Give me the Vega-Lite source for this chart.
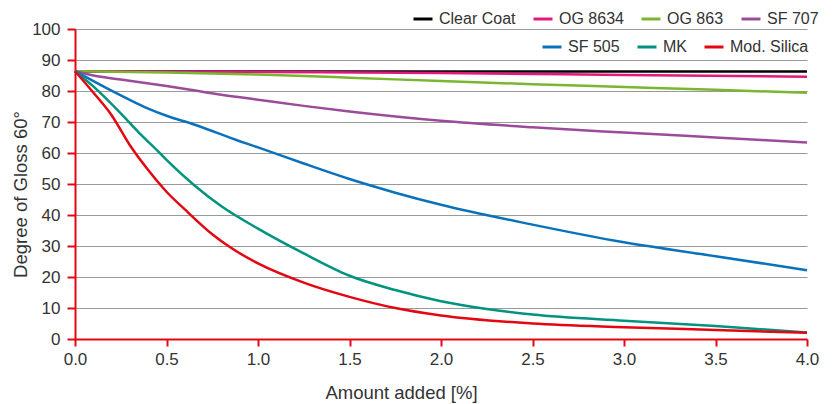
{
  "$schema": "https://vega.github.io/schema/vega-lite/v6.json",
  "autosize": {"type": "none"},
  "width": 732,
  "height": 310,
  "padding": {"left": 75, "top": 29, "right": 29, "bottom": 65},
  "background": "white",
  "config": {
    "view": {"stroke": null},
    "font": "Liberation Sans",
    "axis": {"labelFont": "Liberation Sans", "titleFont": "Liberation Sans", "labelColor": "#333333", "titleColor": "#333333", "titleFontWeight": "normal"},
    "legend": {"labelFont": "Liberation Sans", "labelColor": "#333333"}
  },
  "data": {"values": [
    {"series": "Clear Coat", "x": 0, "y": 86.3},
    {"series": "Clear Coat", "x": 1, "y": 86.3},
    {"series": "Clear Coat", "x": 2, "y": 86.3},
    {"series": "Clear Coat", "x": 3, "y": 86.3},
    {"series": "Clear Coat", "x": 4, "y": 86.3},
    {"series": "OG 8634", "x": 0, "y": 86.4},
    {"series": "OG 8634", "x": 1, "y": 86.1},
    {"series": "OG 8634", "x": 2, "y": 85.8},
    {"series": "OG 8634", "x": 3, "y": 85.2},
    {"series": "OG 8634", "x": 4, "y": 84.6},
    {"series": "OG 863", "x": 0, "y": 86.4},
    {"series": "OG 863", "x": 0.5, "y": 86.0},
    {"series": "OG 863", "x": 1, "y": 85.3},
    {"series": "OG 863", "x": 1.5, "y": 84.3},
    {"series": "OG 863", "x": 2, "y": 83.2},
    {"series": "OG 863", "x": 2.5, "y": 82.2},
    {"series": "OG 863", "x": 3, "y": 81.3},
    {"series": "OG 863", "x": 3.5, "y": 80.4},
    {"series": "OG 863", "x": 4, "y": 79.4},
    {"series": "SF 707", "x": 0, "y": 86.4},
    {"series": "SF 707", "x": 0.15, "y": 84.5},
    {"series": "SF 707", "x": 0.25, "y": 83.7},
    {"series": "SF 707", "x": 0.5, "y": 81.6},
    {"series": "SF 707", "x": 0.63, "y": 80.4},
    {"series": "SF 707", "x": 0.8, "y": 78.8},
    {"series": "SF 707", "x": 1, "y": 77.2},
    {"series": "SF 707", "x": 1.25, "y": 75.2},
    {"series": "SF 707", "x": 1.5, "y": 73.4},
    {"series": "SF 707", "x": 2, "y": 70.4},
    {"series": "SF 707", "x": 2.5, "y": 68.3},
    {"series": "SF 707", "x": 3, "y": 66.6},
    {"series": "SF 707", "x": 3.5, "y": 65.0},
    {"series": "SF 707", "x": 4, "y": 63.4},
    {"series": "SF 505", "x": 0, "y": 86.4},
    {"series": "SF 505", "x": 0.17, "y": 81.0},
    {"series": "SF 505", "x": 0.25, "y": 78.6},
    {"series": "SF 505", "x": 0.4, "y": 74.3},
    {"series": "SF 505", "x": 0.5, "y": 72.0},
    {"series": "SF 505", "x": 0.65, "y": 69.2},
    {"series": "SF 505", "x": 0.9, "y": 63.8},
    {"series": "SF 505", "x": 1, "y": 61.8},
    {"series": "SF 505", "x": 1.25, "y": 56.6},
    {"series": "SF 505", "x": 1.5, "y": 51.6},
    {"series": "SF 505", "x": 1.75, "y": 47.2},
    {"series": "SF 505", "x": 2, "y": 43.3},
    {"series": "SF 505", "x": 2.5, "y": 36.9},
    {"series": "SF 505", "x": 3, "y": 31.2},
    {"series": "SF 505", "x": 3.5, "y": 26.7},
    {"series": "SF 505", "x": 4, "y": 22.2},
    {"series": "MK", "x": 0, "y": 86.4},
    {"series": "MK", "x": 0.1, "y": 81.5},
    {"series": "MK", "x": 0.25, "y": 72.8},
    {"series": "MK", "x": 0.35, "y": 66.5},
    {"series": "MK", "x": 0.45, "y": 60.8},
    {"series": "MK", "x": 0.5, "y": 57.8},
    {"series": "MK", "x": 0.65, "y": 49.7},
    {"series": "MK", "x": 0.8, "y": 42.8},
    {"series": "MK", "x": 1, "y": 35.6},
    {"series": "MK", "x": 1.25, "y": 27.6},
    {"series": "MK", "x": 1.5, "y": 20.4},
    {"series": "MK", "x": 1.75, "y": 15.8},
    {"series": "MK", "x": 2, "y": 12.2},
    {"series": "MK", "x": 2.25, "y": 9.7},
    {"series": "MK", "x": 2.5, "y": 7.9},
    {"series": "MK", "x": 3, "y": 5.9},
    {"series": "MK", "x": 3.5, "y": 4.2},
    {"series": "MK", "x": 4, "y": 2.1},
    {"series": "Mod. Silica", "x": 0, "y": 86.4},
    {"series": "Mod. Silica", "x": 0.1, "y": 79.5},
    {"series": "Mod. Silica", "x": 0.2, "y": 72.2},
    {"series": "Mod. Silica", "x": 0.3, "y": 62.5},
    {"series": "Mod. Silica", "x": 0.4, "y": 54.5},
    {"series": "Mod. Silica", "x": 0.5, "y": 47.5},
    {"series": "Mod. Silica", "x": 0.6, "y": 41.8},
    {"series": "Mod. Silica", "x": 0.75, "y": 33.8},
    {"series": "Mod. Silica", "x": 0.85, "y": 29.5},
    {"series": "Mod. Silica", "x": 1, "y": 24.4},
    {"series": "Mod. Silica", "x": 1.25, "y": 18.2},
    {"series": "Mod. Silica", "x": 1.5, "y": 13.6},
    {"series": "Mod. Silica", "x": 1.75, "y": 10.0},
    {"series": "Mod. Silica", "x": 2, "y": 7.6},
    {"series": "Mod. Silica", "x": 2.5, "y": 5.0},
    {"series": "Mod. Silica", "x": 3, "y": 3.8},
    {"series": "Mod. Silica", "x": 3.5, "y": 2.9},
    {"series": "Mod. Silica", "x": 4, "y": 2.0}
  ]},
  "encoding": {
    "x": {
      "field": "x", "type": "quantitative",
      "scale": {"domain": [0, 4], "nice": false},
      "axis": {
        "title": "Amount added [%]", "values": [0, 0.5, 1, 1.5, 2, 2.5, 3, 3.5, 4], "format": ".1f",
        "grid": false, "domainColor": "#e30613", "domainWidth": 2, "tickColor": "#e30613", "tickWidth": 2, "tickSize": 7,
        "labelFontSize": 17, "labelPadding": 5, "labelFlush": false, "labelOverlap": false, "titleFontSize": 18.5,
        "titleX": 326, "titleY": 53, "titleBaseline": "middle", "titleAnchor": null
      }
    },
    "y": {
      "field": "y", "type": "quantitative",
      "scale": {"domain": [0, 100], "nice": false},
      "axis": {
        "title": "Degree of Gloss 60°", "values": [0, 10, 20, 30, 40, 50, 60, 70, 80, 90, 100],
        "grid": true, "gridColor": "#999999", "gridWidth": 1,
        "domainColor": "#e30613", "domainWidth": 2, "tickColor": "#e30613", "tickWidth": 2, "tickSize": 8,
        "labelFontSize": 17, "labelPadding": 7, "labelFlush": false, "titleFontSize": 18.5,
        "titleX": -55, "titleY": 165, "titleAngle": -90, "titleBaseline": "middle"
      }
    }
  },
  "layer": [
    {
      "transform": [{"filter": {"field": "series", "oneOf": ["Clear Coat", "OG 8634", "OG 863", "SF 707"]}}],
      "mark": {"type": "line", "interpolate": "monotone", "strokeWidth": 2.5},
      "encoding": {
        "color": {
          "field": "series", "type": "nominal",
          "scale": {"domain": ["Clear Coat", "OG 8634", "OG 863", "SF 707"], "range": ["#000000", "#e5177e", "#7ab62f", "#9c4b9b"]},
          "legend": {"orient": "none", "legendX": 337, "legendY": -21, "direction": "horizontal", "title": null,
            "symbolType": "stroke", "symbolStrokeWidth": 3, "symbolSize": 361, "labelFontSize": 16,
            "columnPadding": 11, "labelOffset": 5}
        }
      }
    },
    {
      "transform": [{"filter": {"field": "series", "oneOf": ["SF 505", "MK", "Mod. Silica"]}}],
      "mark": {"type": "line", "interpolate": "monotone", "strokeWidth": 2.5},
      "encoding": {
        "stroke": {
          "field": "series", "type": "nominal",
          "scale": {"domain": ["SF 505", "MK", "Mod. Silica"], "range": ["#0a72bb", "#00937e", "#e30613"]},
          "legend": {"orient": "none", "legendX": 466, "legendY": 7, "direction": "horizontal", "title": null,
            "symbolType": "stroke", "symbolStrokeWidth": 3, "symbolSize": 361, "labelFontSize": 16,
            "columnPadding": 11, "labelOffset": 5}
        }
      }
    }
  ]
}
